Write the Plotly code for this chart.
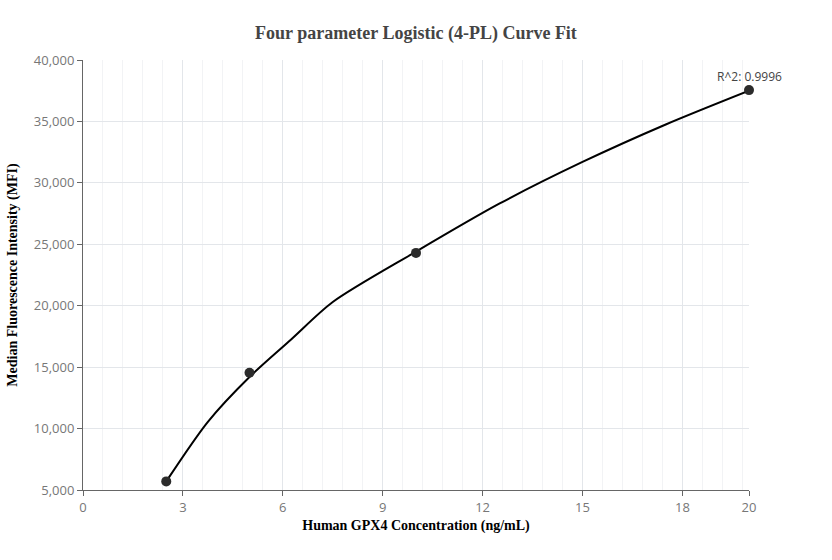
import plotly.graph_objects as go

# measured standards
conc = [2.5, 5, 10, 20]
mfi = [5700, 14550, 24300, 37550]

# fitted 4-PL curve
curve_x = [2.5, 3.75, 5, 6.25, 7.5, 10, 12.5, 15, 17.5, 20]
curve_y = [5700, 10550, 14200, 17250, 20300, 24400, 28300, 31700, 34750, 37500]

r2_text = 'R^2: 0.9996'
x_ticks = [0, 3, 6, 9, 12, 15, 18, 20]
y_ticks = [5000, 10000, 15000, 20000, 25000, 30000, 35000, 40000]

fig = go.Figure()
fig.add_trace(go.Scatter(
    x=curve_x, y=curve_y, mode='lines',
    line=dict(color='black', width=2, shape='spline', smoothing=0.8),
    hoverinfo='skip', showlegend=False
))
fig.add_trace(go.Scatter(
    x=conc, y=mfi, mode='markers', cliponaxis=False,
    marker=dict(color='#2b2b2b', size=10),
    showlegend=False
))

fig.add_annotation(x=conc[-1], y=mfi[-1], text=r2_text, showarrow=False,
                   xanchor='center', yanchor='bottom', yshift=3,
                   font=dict(family='Open Sans, Arial, sans-serif', size=12, color='#444'))

axis_font = dict(family='Liberation Serif, Times New Roman, serif', size=14, color='black')
tick_font = dict(family='Open Sans, Arial, sans-serif', size=13, color='#777')

fig.update_layout(
    width=832, height=560,
    margin=dict(l=83, r=83, t=60, b=70),
    plot_bgcolor='white', paper_bgcolor='white',
    title=dict(text='<b>Four parameter Logistic (4-PL) Curve Fit</b>', x=0.5, y=1 - 33 / 560,
               xanchor='center', yanchor='middle',
               font=dict(family='Liberation Serif, Times New Roman, serif', size=18, color='#444')),
    xaxis=dict(
        title=dict(text='<b>Human GPX4 Concentration (ng/mL)</b>', font=axis_font, standoff=5),
        range=[0, 20], tickvals=x_ticks, tickfont=tick_font,
        showline=True, linecolor='#666', linewidth=1,
        ticks='outside', ticklen=5, tickcolor='#666',
        showgrid=True, gridcolor='#e3e6ea', zeroline=False,
        minor=dict(dtick=0.6, tick0=0, showgrid=True, gridcolor='#f2f3f5'),
    ),
    yaxis=dict(
        title=dict(text='<b>Median Fluorescence Intensity (MFI)</b>', font=axis_font, standoff=12),
        range=[5000, 40000], tickvals=y_ticks, tickformat=',', tickfont=tick_font,
        showline=True, linecolor='#666', linewidth=1,
        ticks='outside', ticklen=5, tickcolor='#666',
        showgrid=True, gridcolor='#e3e6ea', zeroline=False,
    ),
)

# drop the default page margin so the figure sits at the window corner
fig.write_html('out.html', config={'displayModeBar': False},
               post_script="document.body.style.margin='0';")
